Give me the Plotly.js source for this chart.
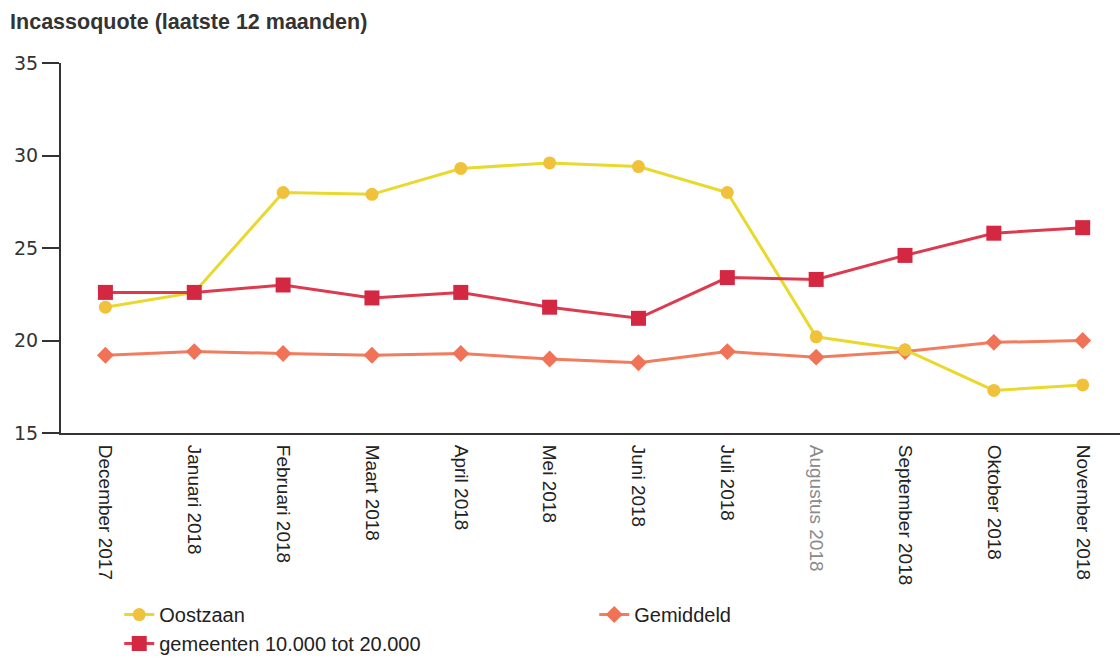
<!DOCTYPE html>
<html>
<head>
<meta charset="utf-8">
<script src="https://cdn.plot.ly/plotly-3.0.1.min.js"></script>
<style>html,body{margin:0;padding:0;background:#fff;}#chart{width:1120px;height:661px;}</style>
</head>
<body>
<div id="chart"></div>
<script>
const categories = ["December 2017","Januari 2018","Februari 2018","Maart 2018","April 2018","Mei 2018","Juni 2018","Juli 2018","Augustus 2018","September 2018","Oktober 2018","November 2018"];
const oostzaan = [21.8, 22.6, 28.0, 27.9, 29.3, 29.6, 29.4, 28.0, 20.2, 19.5, 17.3, 17.6];
const gemeenten = [22.6, 22.6, 23.0, 22.3, 22.6, 21.8, 21.2, 23.4, 23.3, 24.6, 25.8, 26.1];
const gemiddeld = [19.2, 19.4, 19.3, 19.2, 19.3, 19.0, 18.8, 19.4, 19.1, 19.4, 19.9, 20.0];
const yTicks = [15, 20, 25, 30, 35];
const greyLabel = "Augustus 2018";

const idx = categories.map((c, i) => i);
const tickText = categories.map(c => c === greyLabel ? '<span style="color:#8a8a8a">' + c + '</span>' : c);

const traces = [
  {x: idx, y: gemiddeld, name: "Gemiddeld", type: "scatter", mode: "lines+markers", legendrank: 2,
   line: {color: "#f27c5e", width: 3}, marker: {symbol: "diamond", size: 13, color: "#f07358"}},
  {x: idx, y: oostzaan, name: "Oostzaan", type: "scatter", mode: "lines+markers", legendrank: 1,
   line: {color: "#e9d92e", width: 3}, marker: {symbol: "circle", size: 13, color: "#f0c23c"}},
  {x: idx, y: gemeenten, name: "gemeenten 10.000 tot 20.000", type: "scatter", mode: "lines+markers", legendrank: 3,
   line: {color: "#dd3a50", width: 3}, marker: {symbol: "square", size: 15, color: "#d42742"}}
];

const layout = {
  width: 1120, height: 661,
  margin: {l: 61, r: 0, t: 63, b: 228, autoexpand: false},
  paper_bgcolor: "#ffffff", plot_bgcolor: "#ffffff",
  title: {text: "<b>Incassoquote (laatste 12 maanden)</b>", x: 0.009, xanchor: "left", y: 0.967, yanchor: "middle",
          font: {family: "Liberation Sans, Arial, sans-serif", size: 21.5, color: "#333"}},
  xaxis: {range: [-0.5, 11.42], tickmode: "array", tickvals: idx, ticktext: tickText, tickangle: 90, automargin: false,
          showgrid: false, zeroline: false, showline: true, linecolor: "#333", linewidth: 2, ticklabelstandoff: 6,
          ticks: "", tickfont: {family: "Liberation Sans, Arial, sans-serif", size: 19, color: "#222"}},
  yaxis: {range: [15, 35], tickmode: "array", tickvals: yTicks, showgrid: false, zeroline: false, automargin: false,
          showline: true, linecolor: "#333", linewidth: 2, ticks: "outside", ticklen: 17, tickwidth: 2, tickcolor: "#333",
          tickfont: {family: "DejaVu Sans, Verdana, sans-serif", size: 19, color: "#333"}},
  showlegend: true,
  legend: {orientation: "h", x: 0.055, xanchor: "left", y: -0.438, yanchor: "top", entrywidth: 430, entrywidthmode: "pixels",
           traceorder: "normal", font: {family: "Liberation Sans, Arial, sans-serif", size: 20, color: "#222"},
           itemclick: false, bgcolor: "rgba(0,0,0,0)", tracegroupgap: 0}
};

Plotly.newPlot("chart", traces, layout, {displayModeBar: false, staticPlot: true});
</script>
</body>
</html>
